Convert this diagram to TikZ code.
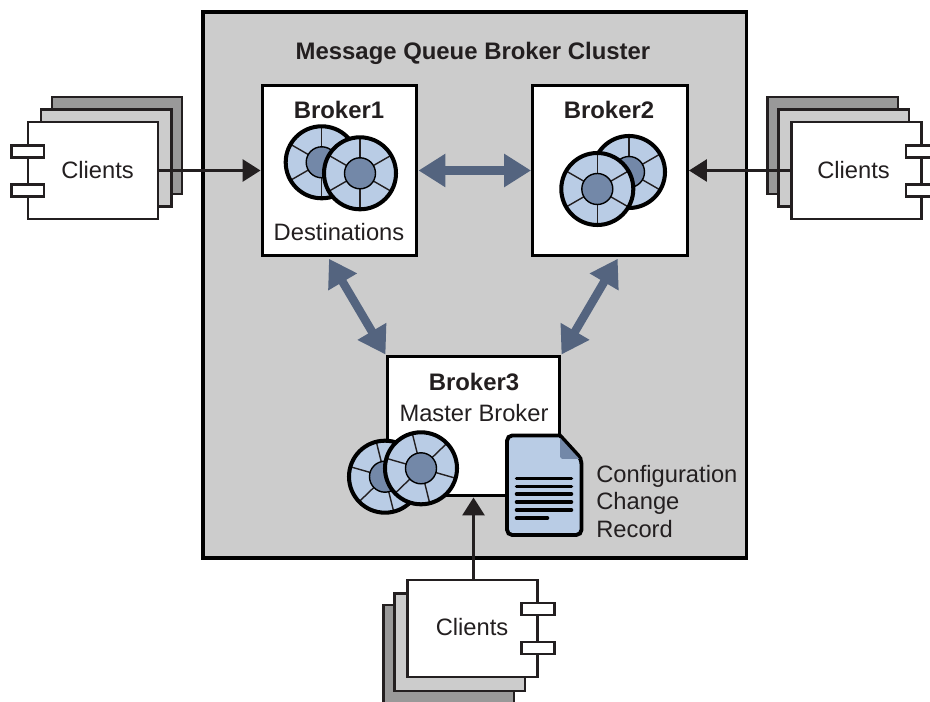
\documentclass[tikz,border=0pt]{standalone}
\usepackage{fontspec}
\setmainfont{Liberation Sans}
\usetikzlibrary{calc,arrows.meta}
\definecolor{inkdark}{HTML}{231F20}
\definecolor{panelgray}{HTML}{CCCCCC}
\definecolor{backgray}{HTML}{999999}
\definecolor{diskblue}{HTML}{B9CCE5}
\definecolor{hubblue}{HTML}{7388A8}
\definecolor{linkblue}{HTML}{54647F}
\tikzset{
	brokerbox/.style={draw=black, line width=1.7pt, fill=white},
	clientbox/.style={draw=inkdark, line width=1.4pt, fill=white, minimum width=2.6cm, minimum height=1.95cm},
	sheet/.style={draw=inkdark, line width=1.4pt},
	txt/.style={text=inkdark, font=\fontsize{13.5pt}{16pt}\selectfont, inner sep=0pt},
	boldtxt/.style={text=inkdark, font=\fontsize{13.6pt}{16pt}\selectfont\bfseries, inner sep=0pt},
	clientlink/.style={color=inkdark, line width=1.6pt, -{Triangle[length=10.2pt,width=12.5pt]}},
	brokerlink/.style={color=linkblue, line width=4.8pt, {Triangle[length=15.3pt,width=18pt]}-{Triangle[length=15.3pt,width=18pt]}}
}
\def\disk(#1)(#2){
	\draw[fill=diskblue, draw=none] (#1) circle (37);
	\foreach \a in {0,60,...,300}
		\draw[line width=0.8pt, color=inkdark] (#1) -- ++(#2+\a:-37);
	\draw[fill=hubblue, line width=0.8pt, draw=black] (#1) circle (15.5);
	\draw[line width=2.3pt, color=black] (#1) circle (36);
}
\begin{document}
\begin{tikzpicture}[x=0.02cm, y=-0.02cm]
	%%%%% START %%%%%
	\clip (0, 0) rectangle (930, 702);
	
	\draw[fill=panelgray, line width=2.2pt, draw=black] (203, 12) rectangle (746.5, 558);
	\node[boldtxt] (title) at (473, 53.5) {Message Queue Broker Cluster};
	
	\node[brokerbox, minimum width=3.1cm, minimum height=3.42cm] (broker1) at (339.5, 170.5) {};
	\node[brokerbox, minimum width=3.1cm, minimum height=3.42cm] (broker2) at (610, 170.5) {};
	\node[brokerbox, minimum width=3.46cm, minimum height=2.8cm] (broker3) at (473.5, 426) {};
	
	\node[boldtxt] (name1) at (339, 110) {Broker1};
	\node[boldtxt] (name2) at (609, 110) {Broker2};
	\node[boldtxt] (name3) at (474, 382) {Broker3};
	\node[txt] (destinations) at (339, 232) {Destinations};
	\node[txt] (master) at (474, 413) {Master Broker};
	
	\disk(321.7, 162.3)(90);
	\disk(360, 173.3)(90);
	\disk(629, 172)(90);
	\disk(597.3, 189)(90);
	\disk(385, 476.7)(76);
	\disk(421, 468.3)(76);
	
	% change record
	\draw[fill=diskblue, line width=2.2pt, draw=black, rounded corners=3pt] (560, 435.5) -- (507, 435.5) -- (507, 535) -- (581.5, 535) -- (581.5, 459) [sharp corners] -- cycle;
	\draw[fill=hubblue, draw=none] (560, 435.5) -- (581.5, 459) -- (562, 459) -- (560, 457) -- cycle;
	\draw[line width=1.6pt, color=black] (560, 435.5) -- (581.5, 459);
	\foreach \y in {478.3, 486.3, 494, 502, 510}
		\draw[line width=2pt, line cap=round, color=black] (516.5, \y) -- (571.5, \y);
	\draw[line width=2pt, line cap=round, color=black] (516.5, 518) -- (547.5, 518);
	\node[txt, anchor=west] (record1) at (596, 476.5) {Configuration};
	\node[txt, anchor=west] (record2) at (596, 503.5) {Change};
	\node[txt, anchor=west] (record3) at (596, 529) {Record};
	
	% left clients
	\draw[sheet, fill=backgray] (52, 97) rectangle (182, 194);
	\draw[sheet, fill=panelgray] (41, 109.5) rectangle (171.5, 206.5);
	\node[clientbox] (clientsa) at (93, 170.5) {};
	\draw[sheet, fill=white] (11.5, 145.5) rectangle (44, 157.5);
	\draw[sheet, fill=white] (11.5, 184.5) rectangle (44, 196.5);
	\node[txt] (labela) at (97.5, 170) {Clients};
	
	% right clients
	\draw[sheet, fill=backgray] (767.5, 97) rectangle (898, 194);
	\draw[sheet, fill=panelgray] (778.5, 109.5) rectangle (909, 206.5);
	\node[clientbox] (clientsb) at (856.5, 170.5) {};
	\draw[sheet, fill=white] (906, 145.5) rectangle (938, 157.5);
	\draw[sheet, fill=white] (906, 184.5) rectangle (938, 196.5);
	\node[txt] (labelb) at (853.5, 170) {Clients};
	
	% bottom clients
	\draw[sheet, fill=backgray] (383.5, 605) rectangle (514, 710);
	\draw[sheet, fill=panelgray] (394.5, 593.5) rectangle (525, 691);
	\node[clientbox] (clientsc) at (472.5, 628.5) {};
	\draw[sheet, fill=white] (521.5, 603) rectangle (554.5, 615);
	\draw[sheet, fill=white] (521.5, 642) rectangle (554.5, 654);
	\node[txt] (labelc) at (472, 627.5) {Clients};
	
	\draw[clientlink] (clientsa.east) -- (broker1.west);
	\draw[clientlink] (clientsb.west) -- (broker2.east);
	\draw[clientlink] (broker3.south |- clientsc.north) -- (broker3.south);
	
	\draw[brokerlink] (broker1.east) -- (broker2.west);
	\draw[brokerlink] ($(broker1.south)+(-10.5, 1.3)$) -- (broker3.north west);
	\draw[brokerlink] ($(broker2.south)+(7.7, 1.3)$) -- (broker3.north east);
	%%%%% END %%%%%
\end{tikzpicture}
\end{document}
